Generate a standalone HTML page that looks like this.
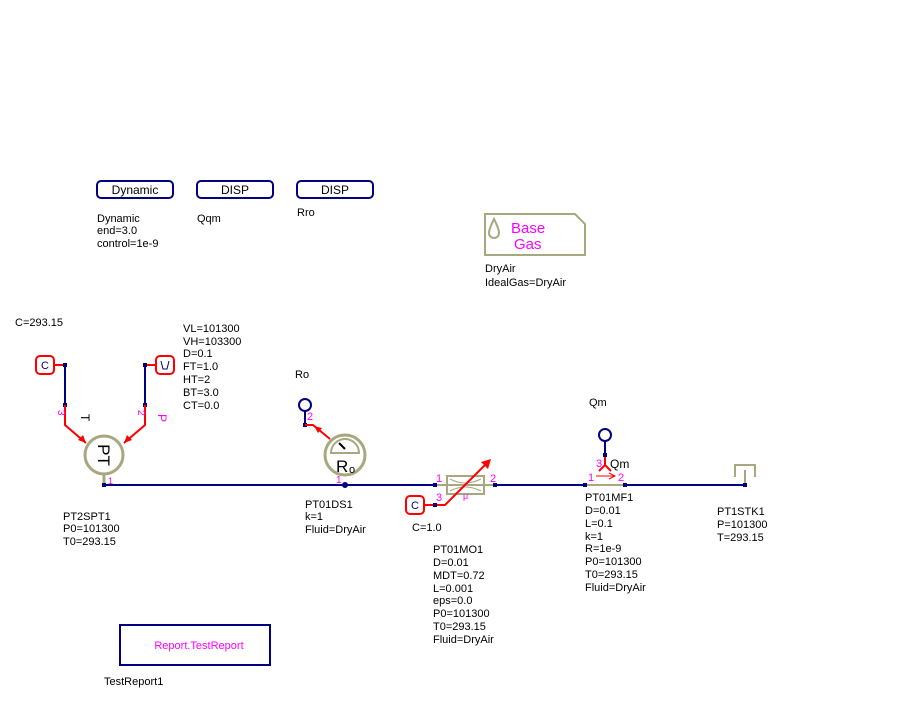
<!DOCTYPE html>
<html><head><meta charset="utf-8"><style>
body{margin:0;background:#fff;}
svg text{font-family:"Liberation Sans",sans-serif;font-size:11px;fill:#000;}
.m{fill:#ff00ff;}
</style></head><body>
<svg width="910" height="712" viewBox="0 0 910 712" xmlns="http://www.w3.org/2000/svg">
<!-- top buttons -->
<rect x="97" y="181" width="76" height="17" rx="4" fill="none" stroke="#000080" stroke-width="2"/>
<text x="135" y="194" text-anchor="middle" style="font-size:12px">Dynamic</text>
<rect x="197" y="181" width="76" height="17" rx="4" fill="none" stroke="#000080" stroke-width="2"/>
<text x="235" y="194" text-anchor="middle" style="font-size:12px">DISP</text>
<rect x="297" y="181" width="76" height="17" rx="4" fill="none" stroke="#000080" stroke-width="2"/>
<text x="335" y="194" text-anchor="middle" style="font-size:12px">DISP</text>
<text x="97" y="222">Dynamic</text><text x="97" y="234">end=3.0</text><text x="97" y="247">control=1e-9</text>
<text x="197" y="222">Qqm</text>
<text x="297" y="216">Rro</text>
<!-- Base gas -->
<path d="M485 214 H575 L585 224 V255 H485 Z" fill="none" stroke="#a8a880" stroke-width="2"/>
<path d="M494 219 Q489 229 489 233 A5 5 0 0 0 499 233 Q499 229 494 219Z" fill="none" stroke="#a8a880" stroke-width="2"/>
<text x="511" y="233" class="m" style="font-size:15px">Base</text>
<text x="514" y="249" class="m" style="font-size:15px">Gas</text>
<text x="485" y="272">DryAir</text><text x="485" y="286">IdealGas=DryAir</text>
<!-- PT2SPT1 -->
<text x="15" y="326">C=293.15</text>
<text x="183" y="332">VL=101300</text><text x="183" y="345">VH=103300</text><text x="183" y="357">D=0.1</text><text x="183" y="370">FT=1.0</text><text x="183" y="383">HT=2</text><text x="183" y="396">BT=3.0</text><text x="183" y="409">CT=0.0</text>
<rect x="36" y="356" width="18" height="18" rx="4" fill="none" stroke="#f00" stroke-width="2"/>
<text x="45" y="369" text-anchor="middle" style="fill:#000080">C</text>
<rect x="156" y="356" width="18" height="18" rx="4" fill="none" stroke="#f00" stroke-width="2"/>
<path d="M161 361 L163 369 H167 L169 361" fill="none" stroke="#000080"/>
<line x1="54" y1="365" x2="65" y2="365" stroke="#f00" stroke-width="2"/>
<line x1="145" y1="365" x2="156" y2="365" stroke="#f00" stroke-width="2"/>
<line x1="65" y1="365" x2="65" y2="405" stroke="#000080" stroke-width="2"/>
<line x1="145" y1="365" x2="145" y2="405" stroke="#000080" stroke-width="2"/>
<rect x="63" y="363" width="4" height="4" fill="#000080"/><rect x="143" y="363" width="4" height="4" fill="#000080"/>
<rect x="63" y="403" width="4" height="4" fill="#000080"/><rect x="143" y="403" width="4" height="4" fill="#000080"/>
<path d="M65 405 V425 L86 443" fill="none" stroke="#f00" stroke-width="2"/>
<path d="M145 405 V425 L124 443" fill="none" stroke="#f00" stroke-width="2"/>
<path d="M86 443 L78 440 L83 435Z" fill="#f00"/><path d="M124 443 L132 440 L127 435Z" fill="#f00"/>
<text x="56" y="412" class="m" transform="rotate(90 58 412)" style="font-size:10px">3</text>
<text x="136" y="412" class="m" transform="rotate(90 138 412)" style="font-size:10px">2</text>
<text x="73" y="414" transform="rotate(90 77 418)" style="font-size:12px">T</text>
<text x="150" y="414" class="m" transform="rotate(90 154 418)" style="font-size:12px">P</text>
<circle cx="104" cy="455" r="19" fill="#fff" stroke="#a8a880" stroke-width="3"/>
<text x="104" y="455" text-anchor="middle" transform="rotate(90 104 455)" dy="6" style="font-size:17px">PT</text>
<line x1="104" y1="474" x2="104" y2="485" stroke="#a8a880" stroke-width="3"/>
<text x="108" y="484" class="m" style="font-size:9px">1</text>
<!-- main line -->
<line x1="104" y1="485" x2="745" y2="485" stroke="#000080" stroke-width="2"/>
<rect x="102" y="483" width="4" height="4" fill="#000080"/>
<text x="63" y="520">PT2SPT1</text><text x="63" y="532">P0=101300</text><text x="63" y="545">T0=293.15</text>
<!-- Ro sensor -->
<text x="295" y="378">Ro</text>
<circle cx="305" cy="405" r="6" fill="#fff" stroke="#000080" stroke-width="2"/>
<line x1="305" y1="411" x2="305" y2="424" stroke="#000080" stroke-width="2"/>
<rect x="303" y="423" width="4" height="4" fill="#000080"/>
<text x="307" y="420" class="m">2</text>
<path d="M305 425 H313 L330 439" fill="none" stroke="#f00" stroke-width="2"/>
<path d="M314 426 L322 428 L318 433Z" fill="#f00"/>
<circle cx="345" cy="455" r="20" fill="#fff" stroke="#a8a880" stroke-width="3"/>
<path d="M331 453 A14 14 0 0 1 359 453 Z" fill="none" stroke="#a8a880" stroke-width="2"/>
<line x1="339" y1="443" x2="345" y2="449" stroke="#000" stroke-width="2"/>
<text x="336" y="472" style="font-size:17px">R</text><text x="349" y="473" style="font-size:11px">o</text>
<circle cx="345" cy="485" r="3" fill="#000080"/>
<text x="336" y="483" class="m" style="font-size:10px">1</text>
<text x="305" y="508">PT01DS1</text><text x="305" y="520">k=1</text><text x="305" y="533">Fluid=DryAir</text>
<!-- valve -->
<rect x="447" y="476" width="37" height="18" fill="#fff" stroke="#a8a880" stroke-width="2"/>
<line x1="447" y1="485" x2="484" y2="485" stroke="#a8a880" stroke-width="2"/>
<path d="M450 479 Q465 487 481 479 M450 491 Q465 483 481 491" fill="none" stroke="#a8a880"/>
<line x1="435" y1="485" x2="447" y2="485" stroke="#a8a880" stroke-width="2"/>
<line x1="484" y1="485" x2="495" y2="485" stroke="#a8a880" stroke-width="2"/>
<rect x="433" y="483" width="4" height="4" fill="#000080"/><rect x="493" y="483" width="4" height="4" fill="#000080"/>
<text x="436" y="482" class="m">1</text><text x="490" y="482" class="m">2</text>
<text x="463" y="499" class="m" style="font-size:9px">μ</text>
<rect x="406" y="496" width="18" height="18" rx="4" fill="none" stroke="#f00" stroke-width="2"/>
<text x="415" y="509" text-anchor="middle" style="fill:#000080">C</text>
<path d="M424 505 H445 L489 461" fill="none" stroke="#f00" stroke-width="2"/>
<path d="M491 459 L481 462 L488 469Z" fill="#f00"/>
<rect x="433" y="503" width="4" height="4" fill="#000080"/>
<text x="436" y="501" class="m">3</text>
<text x="412" y="531">C=1.0</text>
<text x="433" y="553">PT01MO1</text><text x="433" y="566">D=0.01</text><text x="433" y="579">MDT=0.72</text><text x="433" y="592">L=0.001</text><text x="433" y="604">eps=0.0</text><text x="433" y="617">P0=101300</text><text x="433" y="630">T0=293.15</text><text x="433" y="643">Fluid=DryAir</text>
<!-- mass flow -->
<text x="589" y="406">Qm</text>
<circle cx="605" cy="435" r="6" fill="#fff" stroke="#000080" stroke-width="2"/>
<line x1="605" y1="441" x2="605" y2="455" stroke="#000080" stroke-width="2"/>
<rect x="603" y="453" width="4" height="4" fill="#000080"/>
<path d="M605 457 V465 M599 471 L605 465 L611 471" fill="none" stroke="#f00" stroke-width="2"/>
<text x="596" y="467" class="m">3</text>
<text x="610" y="468" style="font-size:12px">Qm</text>
<line x1="585" y1="485" x2="625" y2="485" stroke="#a8a880" stroke-width="2"/>
<rect x="583" y="483" width="4" height="4" fill="#000080"/><rect x="623" y="483" width="4" height="4" fill="#000080"/>
<line x1="596" y1="476" x2="614" y2="476" stroke="#f00"/>
<path d="M609 473 L615 476 L609 479" fill="none" stroke="#f00"/>
<text x="588" y="481" class="m">1</text><text x="618" y="481" class="m">2</text>
<text x="585" y="501">PT01MF1</text><text x="585" y="514">D=0.01</text><text x="585" y="527">L=0.1</text><text x="585" y="540">k=1</text><text x="585" y="552">R=1e-9</text><text x="585" y="565">P0=101300</text><text x="585" y="578">T0=293.15</text><text x="585" y="591">Fluid=DryAir</text>
<!-- sink -->
<path d="M735 477 V465 H755 V477" fill="none" stroke="#a8a880" stroke-width="2"/>
<line x1="745" y1="470" x2="745" y2="485" stroke="#a8a880" stroke-width="2"/>
<rect x="743" y="483" width="4" height="4" fill="#000080"/>
<text x="717" y="515">PT1STK1</text><text x="717" y="528">P=101300</text><text x="717" y="541">T=293.15</text>
<!-- report -->
<rect x="120" y="625" width="150" height="40" fill="none" stroke="#000080" stroke-width="2"/>
<text x="199" y="649" class="m" text-anchor="middle">Report.TestReport</text>
<text x="104" y="685">TestReport1</text>
</svg>
</body></html>
